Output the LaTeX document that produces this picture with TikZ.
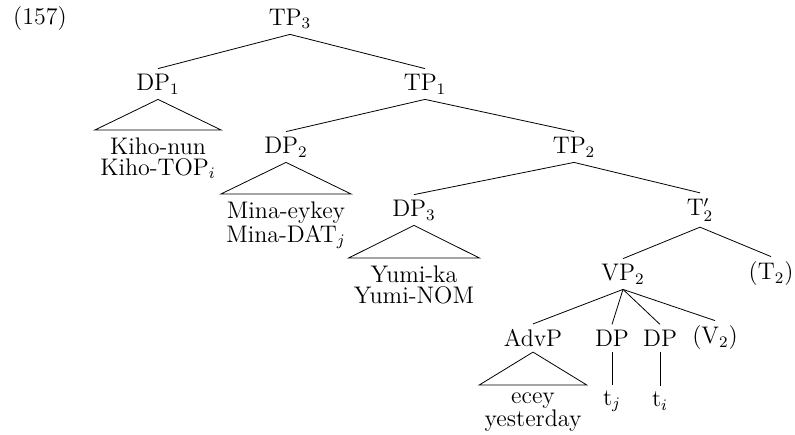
\documentclass[tikz,border=0pt]{standalone}
\usepackage{tikz}
\usetikzlibrary{positioning}

\begin{document}
\begin{tikzpicture}[x=0.5pt, y=-0.5pt, font=\fontsize{12}{10.6}\selectfont,
    cat/.style={inner sep=2.5pt},
    lex/.style={inner xsep=2.5pt, inner ysep=3.5pt, align=center, anchor=north,
      execute at begin node=\strut}]
      \useasboundingbox (0,0) rectangle (795,434);
      \node (ex) at (40,19) {(157)};
      \node[cat] (tp3) at (290,19) {TP$_3$};
      \node[cat] (dp1) at (158,84) {DP$_1$};
      \node[cat] (tp1) at (425,84) {TP$_1$};
      \node[lex, minimum width=61pt] (kiho) at (158,130) {Kiho-nun\\Kiho-TOP$_i$};
      \node[cat] (dp2) at (286,147) {DP$_2$};
      \node[cat] (tp2) at (574,147) {TP$_2$};
      \node[lex, minimum width=63pt] (mina) at (286,194) {Mina-eykey\\Mina-DAT$_j$};
      \node[cat] (dp3) at (414,210) {DP$_3$};
      \node[cat] (tbar) at (700,210) {T$'_2$};
      \node[lex, minimum width=62.5pt] (yumi) at (414,258) {Yumi-ka\\Yumi-NOM};
      \node[cat] (vp2) at (623,274) {VP$_2$};
      \node[cat] (t2) at (771,274) {(T$_2$)};
      \node[cat] (advp) at (533,338) {AdvP};
      \node[cat] (dpj) at (612,338) {DP};
      \node[cat] (dpi) at (660,338) {DP};
      \node[cat] (v2) at (715,338) {(V$_2$)};
      \node[lex, minimum width=51.5pt] (ecey) at (533,385) {ecey\\yesterday};
      \node[cat] (tj) at (612,401) {t$_j$};
      \node[cat] (ti) at (660,401) {t$_i$};
      % branches
      \draw (tp3.south) -- (dp1.north);
      \draw (tp3.south) -- (tp1.north);
      \draw (tp1.south) -- (dp2.north);
      \draw (tp1.south) -- (tp2.north);
      \draw (tp2.south) -- (dp3.north);
      \draw (tp2.south) -- (tbar.north);
      \draw (tbar.south) -- (vp2.north);
      \draw (tbar.south) -- (t2.north);
      \draw (vp2.south) -- (advp.north);
      \draw (vp2.south) -- (dpj.north);
      \draw (vp2.south) -- (dpi.north);
      \draw (vp2.south) -- (v2.north);
      \draw (dpj.south) -- (tj.north);
      \draw (dpi.south) -- (ti.north);
      % roofs
      \draw (dp1.south) -- (kiho.north west) -- (kiho.north east) -- cycle;
      \draw (dp2.south) -- (mina.north west) -- (mina.north east) -- cycle;
      \draw (dp3.south) -- (yumi.north west) -- (yumi.north east) -- cycle;
      \draw (advp.south) -- (ecey.north west) -- (ecey.north east) -- cycle;
    \end{tikzpicture}
\end{document}
